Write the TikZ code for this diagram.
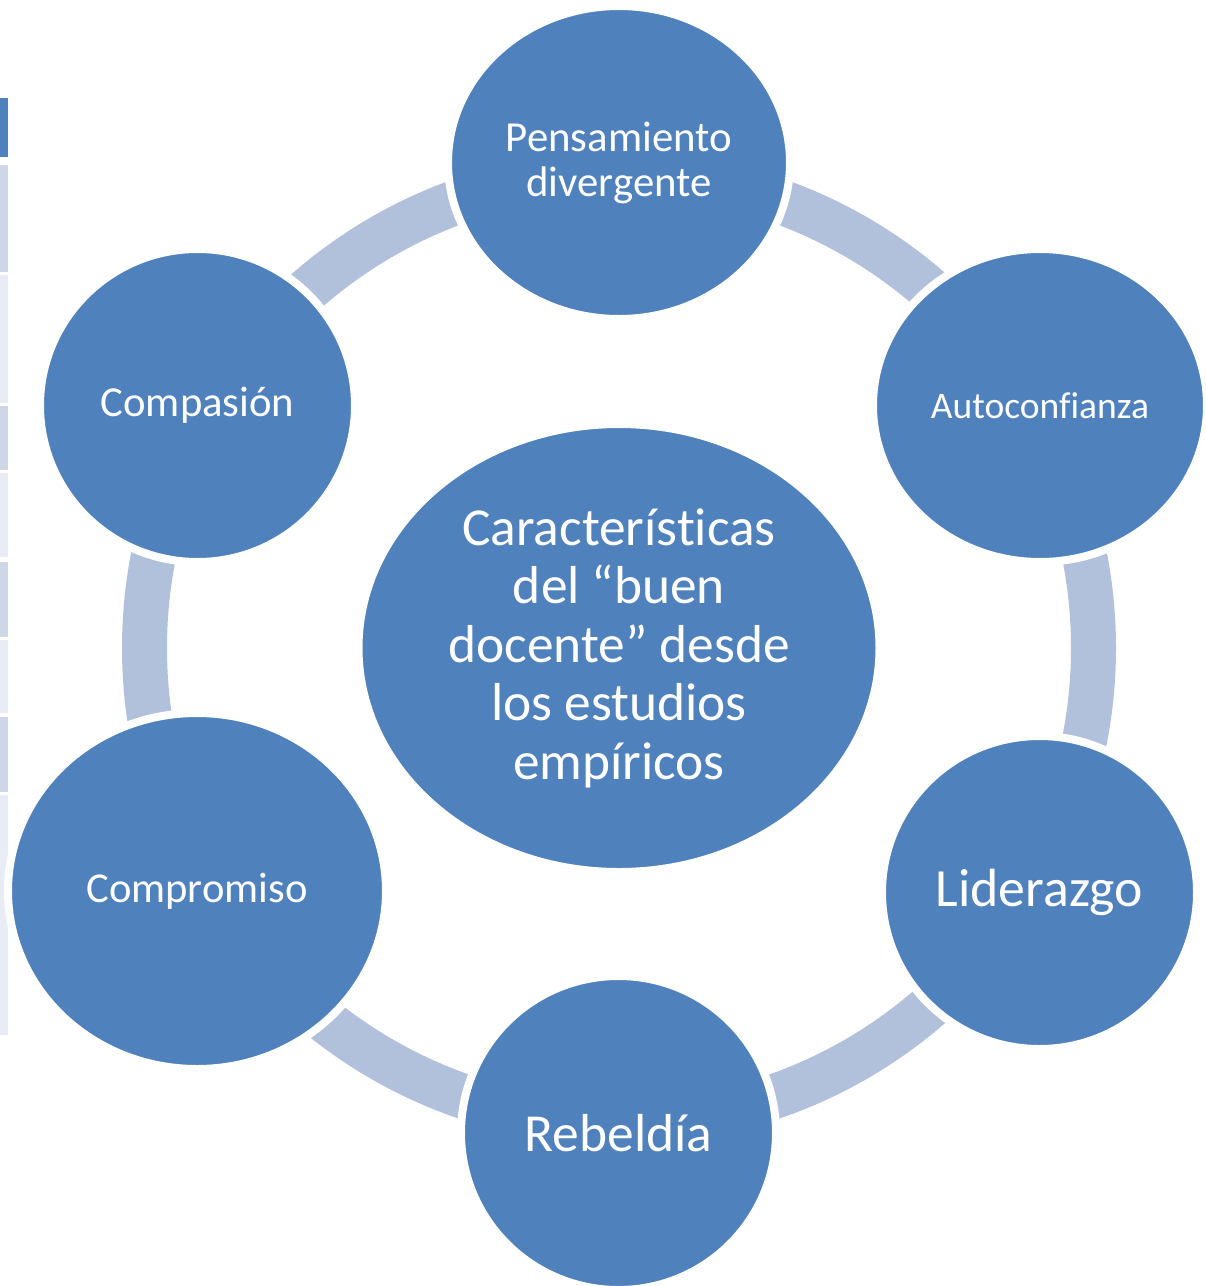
\documentclass[tikz,border=0pt]{standalone}
\usepackage{fontspec}
\setmainfont[Ligatures=NoCommon]{Carlito}
\usetikzlibrary{shapes.geometric}
\definecolor{blobc}{HTML}{4F81BD}
\definecolor{ringc}{HTML}{B2C1DB}
\definecolor{tabA}{HTML}{CFD7E6}
\definecolor{tabB}{HTML}{E8ECF4}
\begin{document}
\begin{tikzpicture}[x=1pt,y=-1pt,
  blob/.style={ellipse,fill=blobc,draw=white,line width=8pt,text=white,align=center,inner sep=0pt,outer sep=0pt},
  ring/.style={draw=ringc,line width=45pt}]
      \useasboundingbox (0,0) rectangle (1206,1286);
      \fill[blobc] (0,98) rectangle (8,157);
      \fill[tabA] (0,165) rectangle (8,272);
      \fill[tabB] (0,275) rectangle (8,403);
      \fill[tabA] (0,406) rectangle (8,470);
      \fill[tabB] (0,473) rectangle (8,557);
      \fill[tabA] (0,562) rectangle (8,637);
      \fill[tabB] (0,640) rectangle (8,713);
      \fill[tabA] (0,717) rectangle (8,792);
      \fill[tabB] (0,795) rectangle (8,1035);
      \coordinate (mid) at (619,648);
      \draw[ring] (mid) circle (474.5);
      \node [blob,minimum width=342,minimum height=313,font=\fontsize{42.8}{45}\selectfont] (pd) at (619,162.5) {Pensamiento\\divergente};
      \node [blob,minimum width=334,minimum height=313,font=\fontsize{37.5}{40}\selectfont] (ac) at (1040,405.5) {Autoconfianza};
      \node [blob,minimum width=315,minimum height=313,font=\fontsize{53.8}{60}\selectfont] (li) at (1039.5,892.5) {Liderazgo};
      \node [blob,minimum width=315,minimum height=314,font=\fontsize{53.5}{60}\selectfont] (re) at (618.5,1133) {Rebeldía};
      \node [blob,minimum width=378,minimum height=356,font=\fontsize{42.6}{48}\selectfont] (cm) at (197,891) {Compromiso};
      \node [blob,minimum width=315,minimum height=313,font=\fontsize{42.7}{48}\selectfont] (cp) at (197.5,405.5) {Compasión};
      \node [blob,minimum width=521,minimum height=448,font=\fontsize{53.4}{58.5}\selectfont] (bd) at (mid) {Características\\del “buen\\docente” desde\\los estudios\\empíricos};
\end{tikzpicture}
\end{document}
